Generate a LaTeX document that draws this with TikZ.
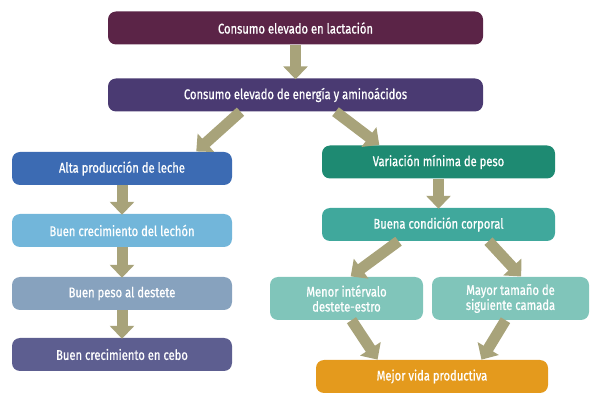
\documentclass[tikz,border=0pt]{standalone}
\usepackage{fontspec}
\setmainfont[FakeStretch=0.8,FakeBold=0.8]{Fira Sans}
\usetikzlibrary{arrows.meta,calc}
\definecolor{c1}{HTML}{5B2447}
\definecolor{c2}{HTML}{4A3A72}
\definecolor{c3}{HTML}{3C6BB3}
\definecolor{c4}{HTML}{72B6DA}
\definecolor{c5}{HTML}{87A2BE}
\definecolor{c6}{HTML}{5D5E90}
\definecolor{c7}{HTML}{1E8A72}
\definecolor{c8}{HTML}{40A89C}
\definecolor{c9}{HTML}{80C5BA}
\definecolor{c11}{HTML}{E49A1D}
\definecolor{arr}{HTML}{A8A37A}
\tikzset{
 box/.style={rounded corners=8pt,text=white,font=\fontsize{14}{15}\selectfont,align=center,inner sep=0pt,minimum height=33pt},
 bar/.style={arr,line width=11pt,-{Triangle[width=24pt,length=13pt]},shorten >=-1pt},
}
\begin{document}
\begin{tikzpicture}[x=1pt,y=-1pt]
\useasboundingbox (0,0) rectangle (600,403);
\node[box,fill=c1,minimum width=375pt] (n1) at (295.5,28) {Consumo elevado en lactación};
\node[box,fill=c2,minimum width=375pt] (n2) at (295.5,95) {Consumo elevado de energía y aminoácidos};
\node[box,fill=c3,minimum width=220pt] (n3) at (122,168.5) {Alta producción de leche};
\node[box,fill=c4,minimum width=220pt] (n4) at (122,230.5) {Buen crecimiento del lechón};
\node[box,fill=c5,minimum width=220pt] (n5) at (122,293.5) {Buen peso al destete};
\node[box,fill=c6,minimum width=220pt] (n6) at (122,354.5) {Buen crecimiento en cebo};
\node[box,fill=c7,minimum width=233pt] (n7) at (438.5,162) {Variación mínima de peso};
\node[box,fill=c8,minimum width=233pt] (n8) at (438.5,224.5) {Buena condición corporal};
\node[box,fill=c9,minimum width=153pt,minimum height=43pt] (n9) at (346.5,298.5) {Menor intérvalo\\destete-estro};
\node[box,fill=c9,minimum width=157pt,minimum height=43pt] (n10) at (510.5,298.5) {Mayor tamaño de\\siguiente camada};
\node[box,fill=c11,minimum width=232pt] (n11) at (432,376.5) {Mejor vida productiva};
\draw[bar] (n1.south) -- (n2.north);
\draw[bar] ($(n2.south)+(-55,0)$) -- ($(n3.north)+(75,-1)$);
\draw[bar] ($(n2.south)+(40,0)$) -- ($(n7.north)+(-60,-1)$);
\draw[bar] (n3.south) -- (n4.north);
\draw[bar] (n4.south) -- (n5.north);
\draw[bar] (n5.south) -- (n6.north);
\draw[bar] (n7.south) -- (n8.north);
\draw[bar] ($(n8.south)+(-40,0)$) -- ($(n9.north)+(5,-1)$);
\draw[bar] ($(n8.south)+(50,0)$) -- ($(n10.north)+(10,-1)$);
\draw[bar] ($(n9.south)+(5,0)$) -- ($(n11.north)+(-55,-1)$);
\draw[bar] ($(n10.south)+(-5,0)$) -- ($(n11.north)+(50,-1)$);
\end{tikzpicture}
\end{document}
